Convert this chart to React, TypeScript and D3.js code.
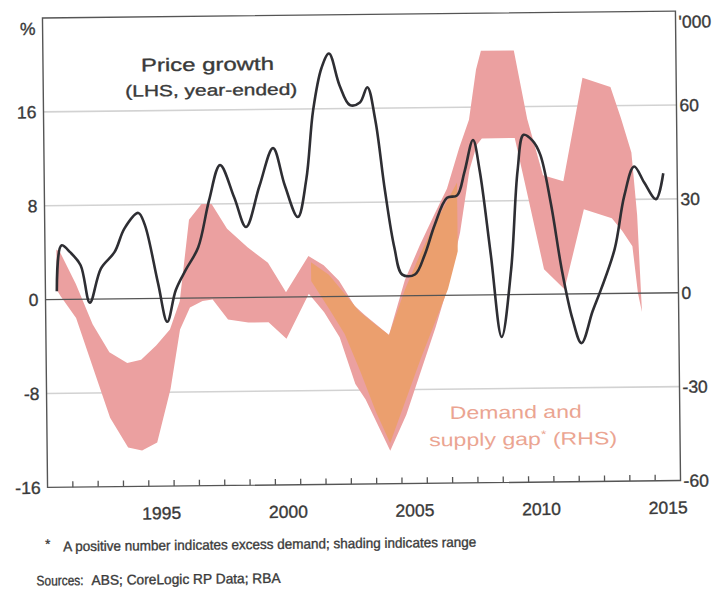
import React from "react";
import * as d3 from "d3";

// Price growth (LHS, %, year-ended)
const priceT = [1991.45, 1991.65, 1992.0, 1992.4, 1992.75, 1993.2, 1993.75, 1994.15, 1994.7, 1994.95, 1995.45, 1995.8, 1996.15, 1996.55, 1997.05, 1997.5, 1997.95, 1998.5, 1998.95, 1999.5, 2000.05, 2000.5, 2001.0, 2001.35, 2001.65, 2002.0, 2002.3, 2002.7, 2003.1, 2003.5, 2003.8, 2004.1, 2004.45, 2004.8, 2005.1, 2005.6, 2006.0, 2006.4, 2006.9, 2007.3, 2007.6, 2007.95, 2008.2, 2008.6, 2009.0, 2009.4, 2009.7, 2009.95, 2010.3, 2010.6, 2011.0, 2011.4, 2011.8, 2012.15, 2012.6, 2012.95, 2013.5, 2013.9, 2014.3, 2014.7, 2015.15, 2015.45];
const priceV = [0.7, 4.6, 4.0, 2.9, -0.3, 2.6, 4.0, 6.0, 7.3, 6.3, 1.3, -2.0, 0.7, 2.4, 4.3, 8.3, 11.3, 8.5, 6.0, 9.5, 12.7, 9.5, 6.8, 10.0, 15.9, 19.5, 20.7, 18.0, 16.3, 16.5, 17.8, 15.0, 9.0, 4.1, 1.8, 1.8, 3.5, 6.0, 8.3, 8.5, 10.5, 13.2, 10.6, 3.5, -3.6, 2.1, 10.6, 13.6, 13.1, 11.9, 7.7, 2.1, -2.1, -4.2, -1.5, 0.4, 3.8, 8.3, 10.8, 9.4, 8.0, 10.2];

// Demand and supply gap range (RHS, '000)
const gapT = [1991.45, 1991.6, 1992.2, 1992.85, 1993.5, 1994.2, 1994.75, 1995.35, 1995.9, 1996.3, 1996.7, 1997.2, 1997.6, 1998.2, 1999.0, 1999.8, 2000.5, 2001.4, 2002.0, 2002.6, 2003.2, 2003.6, 2004.55, 2005.2, 2005.8, 2006.4, 2006.9, 2007.4, 2007.8, 2008.1, 2008.3, 2009.6, 2010.1, 2010.7, 2011.5, 2012.3, 2013.4, 2013.8, 2014.2, 2014.4, 2014.55];
const gapHigh = [16, 15, 5, -8, -17, -20.5, -19.5, -15, -10, -1, 25, 30, 30, 22, 16, 11, 1.5, 13, 10, 5, -3, -6, -12.5, 5, 16, 26, 34, 47, 56, 72, 78, 78, 56, 38, 36, 69, 66, 56, 45, 25, -6];
const gapLow = [3, 1, -6, -22, -38, -47.5, -48.5, -46, -29, -10, -3, -1, -0.5, -7, -8, -8, -13.3, 1, -5, -13, -28, -33, -49.5, -38, -24, -10, 3, 20, 40, 48, 50, 50, 31, 8, 1.5, 27, 24, 20, 15, 0, -6];

// Inner (orange) part of the range
const innerT = [2001.5, 2002.2, 2002.8, 2003.4, 2004.0, 2004.55, 2005.2, 2005.8, 2006.4, 2006.9, 2007.3];
const innerHigh = [11, 7, 1, -5, -9, -12.5, 2, 13, 23, 30, 36];
const innerLow = [5, -4, -12, -24, -37, -47, -33, -20, -8, 2, 14];

const leftTicks = [16, 8, 0, -8, -16];
const rightTicks = [60, 30, 0, -30, -60];
const yearLabels = [1995, 2000, 2005, 2010, 2015];
const minorYears = d3.range(1992, 2016);

const FONT = "'Liberation Sans', Arial, sans-serif";
const TEXT = "#3a3a3a";
const PINK = "#eba0a0";
const ORANGE = "#eb9f6e";
const LABEL = "#eba592";

export default function App() {
  const left = 45, right = 678, top = 14.5, bottom = 484;
  const x = d3.scaleLinear().domain([1991, 2016]).range([left, right]);
  const yL = d3.scaleLinear().domain([-16, 24]).range([bottom, top]);
  const yR = d3.scaleLinear().domain([-60, 90]).range([bottom, top]);

  const gapData = gapT.map((t, i) => ({ t, hi: gapHigh[i], lo: gapLow[i] }));
  const innerData = innerT.map((t, i) => ({ t, hi: innerHigh[i], lo: innerLow[i] }));
  const priceData = priceT.map((t, i) => ({ t, v: priceV[i] }));

  const area = d3
    .area<{ t: number; hi: number; lo: number }>()
    .x((d) => x(d.t))
    .y0((d) => yR(d.lo))
    .y1((d) => yR(d.hi))
    .curve(d3.curveLinear);

  const line = d3
    .line<{ t: number; v: number }>()
    .x((d) => x(d.t))
    .y((d) => yL(d.v))
    .curve(d3.curveCatmullRom.alpha(0.5));

  const txt = { fill: TEXT, stroke: TEXT, strokeWidth: 0.35 };

  return (
    <svg
      width={725}
      height={589}
      style={{ position: "absolute", left: 0, top: 0, display: "block", background: "#fff" }}
      fontFamily={FONT}
    >
      <rect x={0} y={0} width={725} height={589} fill="#fff" />
      <g transform="rotate(-0.62 361.5 250)">
        {/* gridlines */}
        {leftTicks
          .filter((v) => v !== 0 && v !== -16)
          .map((v) => (
            <line key={"g" + v} x1={left} x2={right} y1={yL(v)} y2={yL(v)} stroke="#d2d2d2" strokeWidth={1.6} />
          ))}

        {/* demand and supply gap range */}
        <path d={area(gapData) || ""} fill={PINK} />
        <path d={area(innerData) || ""} fill={ORANGE} />

        {/* zero line */}
        <line x1={left} x2={right} y1={yL(0)} y2={yL(0)} stroke="#555" strokeWidth={1.3} />

        {/* price growth line */}
        <path d={line(priceData) || ""} fill="none" stroke="#2e2e33" strokeWidth={2.6} strokeLinejoin="round" />

        {/* frame */}
        <rect x={left} y={top} width={right - left} height={bottom - top} fill="none" stroke="#555" strokeWidth={1.4} />

        {/* bottom minor ticks */}
        {minorYears.map((yr) => (
          <line key={"t" + yr} x1={x(yr)} x2={x(yr)} y1={bottom} y2={bottom - 6} stroke="#555" strokeWidth={1.3} />
        ))}

        {/* year labels */}
        {yearLabels.map((yr) => (
          <text key={"y" + yr} x={x(yr + 0.5)} y={517} textAnchor="middle" fontSize={17.5} {...txt}>
            {yr}
          </text>
        ))}

        {/* left axis labels */}
        {leftTicks.map((v) => (
          <text key={"l" + v} x={38} y={yL(v)} dy="0.36em" textAnchor="end" fontSize={17.5} {...txt}>
            {v}
          </text>
        ))}
        <text x={38} y={25} dy="0.36em" textAnchor="end" fontSize={17.5} {...txt}>
          %
        </text>

        {/* right axis labels */}
        {rightTicks.map((v) => (
          <text key={"r" + v} x={681} y={yR(v)} dy="0.36em" textAnchor="start" fontSize={17.5} {...txt}>
            {v}
          </text>
        ))}
        <text x={681} y={25} dy="0.36em" textAnchor="start" fontSize={17.5} {...txt}>
          '000
        </text>

        {/* series labels */}
        <text x={143} y={69} fontSize={18} {...txt} textLength={133} lengthAdjust="spacingAndGlyphs">
          Price growth
        </text>
        <text x={127} y={94} fontSize={16} {...txt} textLength={172} lengthAdjust="spacingAndGlyphs">
          (LHS, year-ended)
        </text>
        <text x={448} y={420} fontSize={18} fill={LABEL} textLength={132} lengthAdjust="spacingAndGlyphs">
          Demand and
        </text>
        <text x={427} y={447} fontSize={18} fill={LABEL} textLength={188} lengthAdjust="spacingAndGlyphs">
          supply gap<tspan fontSize={11} dy={-7}>*</tspan>
          <tspan dy={7}> (RHS)</tspan>
        </text>

        {/* footnotes */}
        <text x={42} y={545} fontSize={13} {...txt}>
          *
        </text>
        <text x={60} y={548} fontSize={14} {...txt} textLength={413} lengthAdjust="spacingAndGlyphs">
          A positive number indicates excess demand; shading indicates range
        </text>
        <text x={33} y={582} fontSize={14} {...txt} textLength={47} lengthAdjust="spacingAndGlyphs">
          Sources:
        </text>
        <text x={88} y={582} fontSize={14} {...txt} textLength={189} lengthAdjust="spacingAndGlyphs">
          ABS; CoreLogic RP Data; RBA
        </text>
      </g>
    </svg>
  );
}
